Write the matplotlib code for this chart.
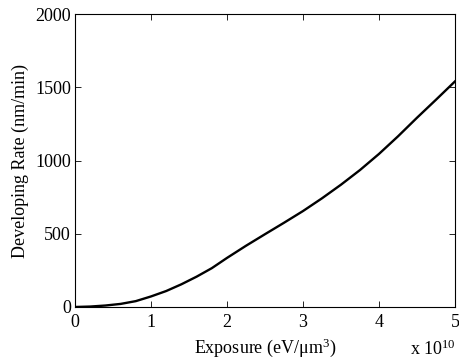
import matplotlib
matplotlib.use("Agg")
import matplotlib.pyplot as plt

plt.rcParams['font.family'] = ['Liberation Serif', 'DejaVu Serif']
plt.rcParams['mathtext.fontset'] = 'custom'
plt.rcParams['mathtext.rm'] = 'Liberation Serif'
plt.rcParams['mathtext.it'] = 'Liberation Serif:italic'

exposure = [0, 0.2, 0.4, 0.6, 0.8, 1.0, 1.2, 1.4, 1.6, 1.8, 2.0, 2.25, 2.5,
            2.75, 3.0, 3.25, 3.5, 3.75, 4.0, 4.25, 4.5, 4.75, 5.0]
rate = [0, 3, 10, 21, 40, 72, 109, 155, 207, 265, 335, 418, 497,
        575, 655, 742, 835, 935, 1045, 1165, 1292, 1415, 1540]
xticks = [0, 1, 2, 3, 4, 5]
yticks = [0, 500, 1000, 1500, 2000]

fig = plt.figure(figsize=(4.59, 3.63), dpi=100)
ax = fig.add_axes([0.1634, 0.1543, 0.8279, 0.8071])
ax.plot(exposure, rate, color='black', lw=1.7, solid_joinstyle='round')
ax.set_xlim(0, 5)
ax.set_ylim(0, 2000)
ax.set_xticks(xticks)
ax.set_yticks(yticks)
ax.tick_params(direction='in', top=True, right=True, labelsize=13, length=4, width=0.6)
ax.tick_params(axis='x', pad=5)
ax.tick_params(axis='y', pad=3)
for s in ax.spines.values():
    s.set_linewidth(0.8)
ax.set_xlabel('Exposure (eV/μm$^3$)', fontsize=13, labelpad=4)
ax.set_ylabel('Developing Rate (nm/min)', fontsize=13, labelpad=4)
fig.text(0.993, 0.012, 'x 10$^{10}$', fontsize=13, ha='right', va='bottom')
fig.savefig('out.png', dpi=100)
